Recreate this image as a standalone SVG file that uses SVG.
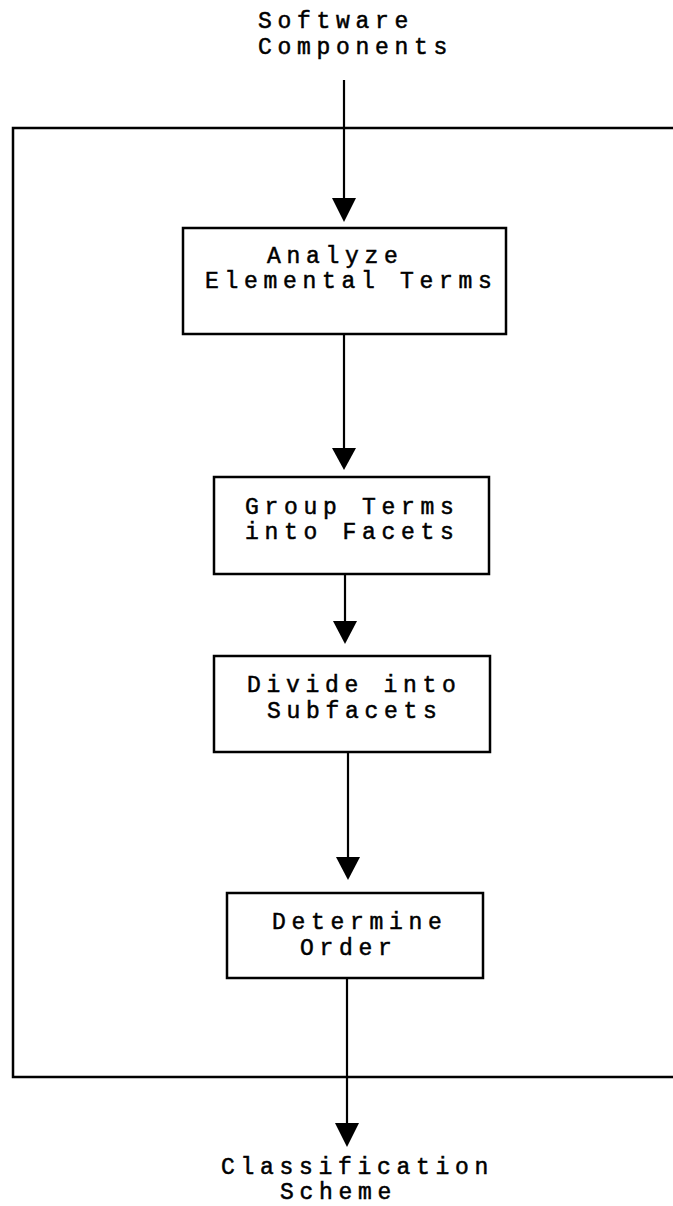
<svg xmlns="http://www.w3.org/2000/svg" width="673" height="1206" viewBox="0 0 673 1206">
<style>
text{font-family:"Liberation Mono","Courier New",monospace;font-size:23px;letter-spacing:5.7px;fill:#000;stroke:#000;stroke-width:0.5}
.box{fill:none;stroke:#000;stroke-width:2.5}
.ln{fill:none;stroke:#000;stroke-width:2.2}
.hd{fill:#000;stroke:none}
</style>
<rect width="673" height="1206" fill="#fff"/>
<g id="frame"><path class="box" d="M673,128 H13 V1077 H673"/></g>
<g id="connectors">
<line class="ln" x1="344" y1="80" x2="344" y2="205"/>
<polygon class="hd" points="332,198 356,198 344,222"/>
<line class="ln" x1="344" y1="334" x2="344" y2="455"/>
<polygon class="hd" points="332,448 356,448 344,470"/>
<line class="ln" x1="345" y1="574" x2="345" y2="628"/>
<polygon class="hd" points="333,621 357,621 345,644"/>
<line class="ln" x1="348" y1="752" x2="348" y2="862"/>
<polygon class="hd" points="336,857 360,857 348,880"/>
<line class="ln" x1="347" y1="978" x2="347" y2="1128"/>
<polygon class="hd" points="335,1123 359,1123 347,1147"/>
</g>
<g id="input"><text x="258" y="28">Software</text><text x="258" y="54">Components</text></g>
<g id="analyze"><rect class="box" x="183" y="228" width="323" height="106"/><text x="267" y="263">Analyze</text><text x="205" y="288">Elemental Terms</text></g>
<g id="group"><rect class="box" x="214" y="477" width="275" height="97"/><text x="245" y="514">Group Terms</text><text x="245" y="539">into Facets</text></g>
<g id="divide"><rect class="box" x="214" y="656" width="276" height="96"/><text x="247" y="692">Divide into</text><text x="267" y="718">Subfacets</text></g>
<g id="order"><rect class="box" x="227" y="893" width="256" height="85"/><text x="272" y="929">Determine</text><text x="300" y="955">Order</text></g>
<g id="output"><text x="221" y="1174">Classification</text><text x="280" y="1199">Scheme</text></g>
</svg>
